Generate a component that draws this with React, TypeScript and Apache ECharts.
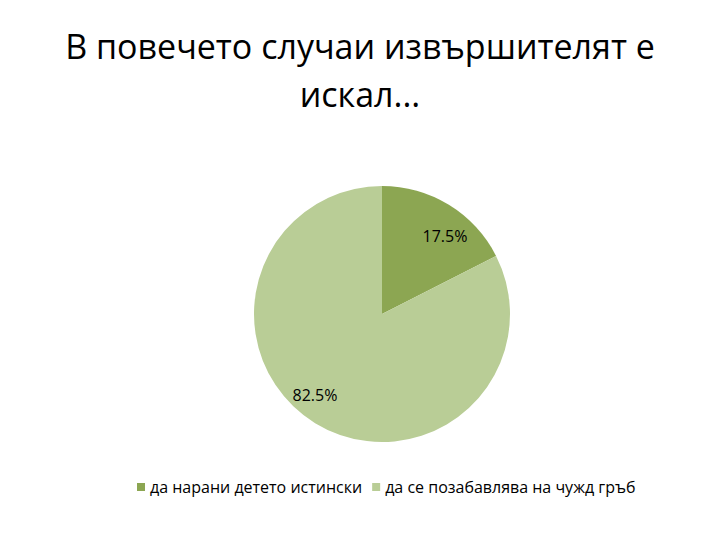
import React, { useEffect, useRef } from "react";
import * as echarts from "echarts";

const titleLines = ["В повечето случаи извършителят е", "искал..."];
const categories = ["да нарани детето истински", "да се позабавлява на чужд гръб"];
const values = [17.5, 82.5];
const colors = ["#8CA652", "#B9CD96"];
const labelOffsets: [number, number][] = [
  [28, -21],
  [-32, 24],
];

export default function App() {
  const ref = useRef<HTMLDivElement>(null);
  useEffect(() => {
    const chart = echarts.init(ref.current!, null, { renderer: "svg" });
    chart.setOption({
      animation: false,
      backgroundColor: "#ffffff",
      title: {
        text: titleLines.join("\n"),
        left: "center",
        top: 9,
        textStyle: {
          fontFamily: "Open Sans",
          fontWeight: "normal",
          fontSize: 34,
          lineHeight: 48,
          color: "#000000",
        },
      },
      legend: {
        bottom: 32,
        left: 124,
        itemWidth: 8,
        itemHeight: 8,
        itemGap: 10,
        icon: "rect",
        textStyle: { fontFamily: "Open Sans", fontSize: 16, color: "#000" },
        data: categories,
      },
      series: [
        {
          type: "pie",
          center: [374, 306],
          radius: [0, 128],
          startAngle: 90,
          clockwise: true,
          label: {
            show: true,
            position: "inside",
            fontFamily: "Open Sans",
            fontSize: 16,
            color: "#000",
            formatter: (p: any) => p.value.toFixed(1) + "%",
          },
          labelLine: { show: false },
          emphasis: { disabled: true },
          data: categories.map((name, i) => ({
            name,
            value: values[i],
            itemStyle: { color: colors[i] },
            label: { offset: labelOffsets[i] },
          })),
        },
      ],
    });
    return () => chart.dispose();
  }, []);
  return <div ref={ref} style={{ width: 704, height: 524 }} />;
}
